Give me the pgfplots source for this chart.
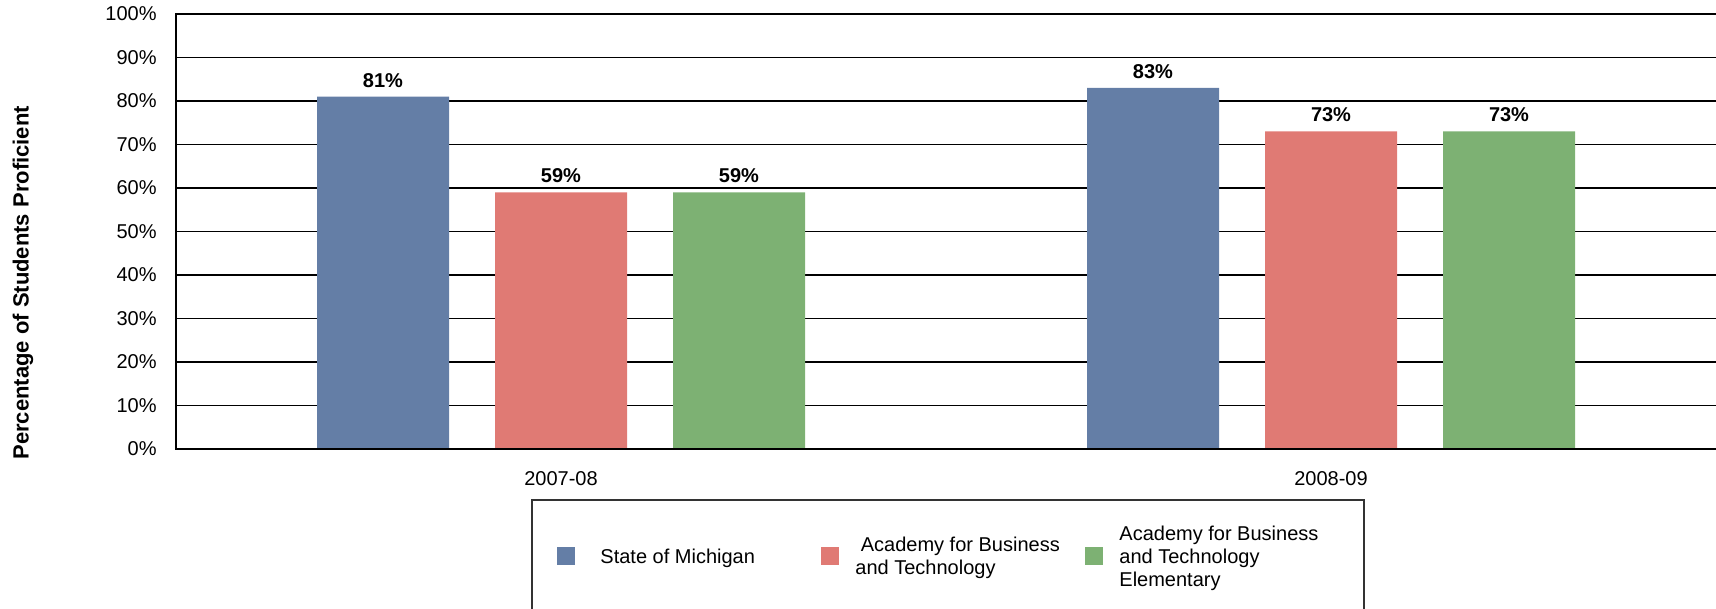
\documentclass[border=0pt]{standalone}
\usepackage{fontspec}
\setmainfont{Liberation Sans}
\usepackage{pgfplots}
\pgfplotsset{compat=1.18}
\definecolor{michblue}{RGB}{100,126,166}
\definecolor{abtred}{RGB}{224,122,116}
\definecolor{abtgreen}{RGB}{125,177,115}
\hyphenpenalty=10000
\newcommand{\entry}[1]{\parbox[c][38pt][c]{112pt}{\fontsize{10}{11.5}\selectfont\raggedright #1}}

\begin{document}
\begin{tikzpicture}
\begin{axis}[
    scale only axis,
    width=771pt, height=217.5pt,
    xmin=0.5, xmax=2.5026,
    ymin=0, ymax=100,
    ybar=23pt, bar width=66pt,
    xtick={1,2}, xticklabels={2007-08,2008-09},
    ytick={0,10,20,30,40,50,60,70,80,90,100},
    yticklabels={0\%,10\%,20\%,30\%,40\%,50\%,60\%,70\%,80\%,90\%,100\%},
    major tick length=0pt,
    ymajorgrids,
    grid style={black, line width=0.6pt},
    axis line style={black, line width=0.8pt},
    yticklabel style={anchor=east, inner sep=0pt, xshift=-9.5pt},
    xticklabel style={anchor=north, inner sep=0pt, yshift=-11pt},
    ylabel={Percentage of Students Proficient},
    ylabel style={font=\fontsize{11}{13}\selectfont\bfseries, at={(axis description cs:-0.0992,0.382)}, anchor=center},
    /pgf/number format/assume math mode=true,
    nodes near coords={\pgfmathprintnumber{\pgfplotspointmeta}\%},
    every node near coord/.append style={font=\bfseries, black, anchor=south, inner sep=0pt, yshift=4.5pt},
    clip=false,
    legend columns=3,
    legend image code/.code={\fill[#1] (0pt,-11pt) rectangle (9pt,-2pt);},
    legend style={draw=none, fill=none, inner sep=0pt,
        at={(axis description cs:0.2471,-0.2161)}, anchor=west,
        nodes={inner sep=2pt},
        /tikz/every odd column/.append style={column sep=6pt},
        /tikz/every even column/.append style={column sep=1pt}},
]
\addplot[draw=none, fill=michblue] coordinates {(1,81) (2,83)};
\addlegendentry{\entry{\hspace*{4.5pt}State of Michigan}}
\addplot[draw=none, fill=abtred] coordinates {(1,59) (2,73)};
\addlegendentry{\entry{\hspace*{2.7pt}Academy for Business\\and Technology}}
\addplot[draw=none, fill=abtgreen] coordinates {(1,59) (2,73)};
\addlegendentry{\entry{Academy for Business\\and Technology\\Elementary}}
\draw[black, line width=1.4pt] (axis cs:0.5,0) -- (axis cs:2.5026,0);
\end{axis}
\draw[black!80, line width=0.8pt] (178pt,-25.5pt) rectangle (594pt,-120pt);
\pgfresetboundingbox
\path[use as bounding box] (-88pt,-80pt) rectangle (770pt,224.5pt);
\end{tikzpicture}
\end{document}
